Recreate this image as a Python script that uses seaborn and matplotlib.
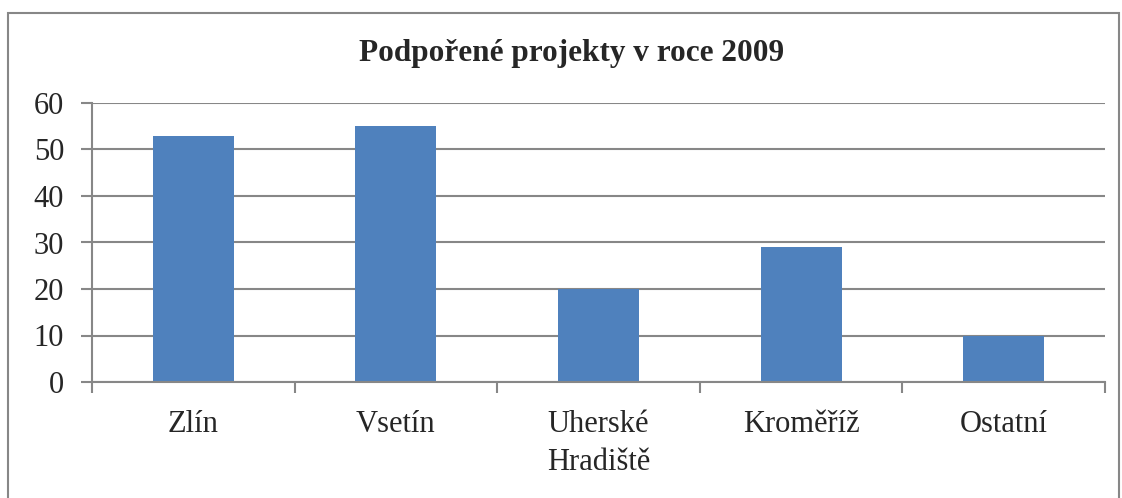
import matplotlib
matplotlib.use("Agg")
import matplotlib.pyplot as plt
import seaborn as sns
import pandas as pd
from matplotlib.patches import Rectangle

# data
kraje = ["Zlín", "Vsetín", "Uherské Hradiště", "Kroměříž", "Ostatní"]
projekty = [53, 55, 20, 29, 10]
popisky = ["Zlín", "Vsetín", "Uherské\nHradiště", "Kroměříž", "Ostatní"]
yticks = [0, 10, 20, 30, 40, 50, 60]

sns.set_style("white")
plt.rcParams["font.family"] = ["Liberation Serif", "DejaVu Serif"]

df = pd.DataFrame({"kraj": kraje, "n": projekty})

fig = plt.figure(figsize=(11.22, 4.98), dpi=100)
ax = fig.add_axes([92/1122, 1-382/498, (1105-92)/1122, (382-103)/498])

sns.barplot(data=df, x="kraj", y="n", color="#4F81BD", saturation=1,
            width=0.4, linewidth=0, ax=ax)

grey = "#878787"
ax.set_ylim(0, 60)
ax.set_xlim(-0.5, len(kraje)-0.5)
ax.set_yticks(yticks)
ax.yaxis.grid(True, color=grey, linewidth=1.5)
ax.set_axisbelow(True)
ax.set_xticks(range(len(kraje)))
ax.set_xticklabels(popisky, fontsize=22, linespacing=1.4)
ax.set_xticks([i-0.5 for i in range(len(kraje)+1)], minor=True)
ax.tick_params(axis="x", which="major", bottom=True, length=0, pad=20)
ax.tick_params(axis="x", which="minor", bottom=True, length=8, width=1.5,
               color=grey, direction="out")
ax.tick_params(axis="y", left=True, length=8, width=1.5, color=grey,
               direction="out", labelsize=22, pad=12)
for lab in ax.get_xticklabels():
    lab.set_verticalalignment("top")
ax.set_xlabel("")
ax.set_ylabel("")
for s in ["top", "right"]:
    ax.spines[s].set_visible(False)
for s in ["left", "bottom"]:
    ax.spines[s].set_color(grey)
    ax.spines[s].set_linewidth(1.5)

fig.text(572/1122, 1-54/498, "Podpořené projekty v roce 2009", ha="center",
         va="center", fontsize=22.5, fontweight="bold")

fig.patches.append(Rectangle((8/1122, -0.05), (1119-8)/1122, 1.05-13/498,
                             transform=fig.transFigure, fill=False,
                             edgecolor=grey, linewidth=1.5))

fig.savefig("out.png", dpi=100)
